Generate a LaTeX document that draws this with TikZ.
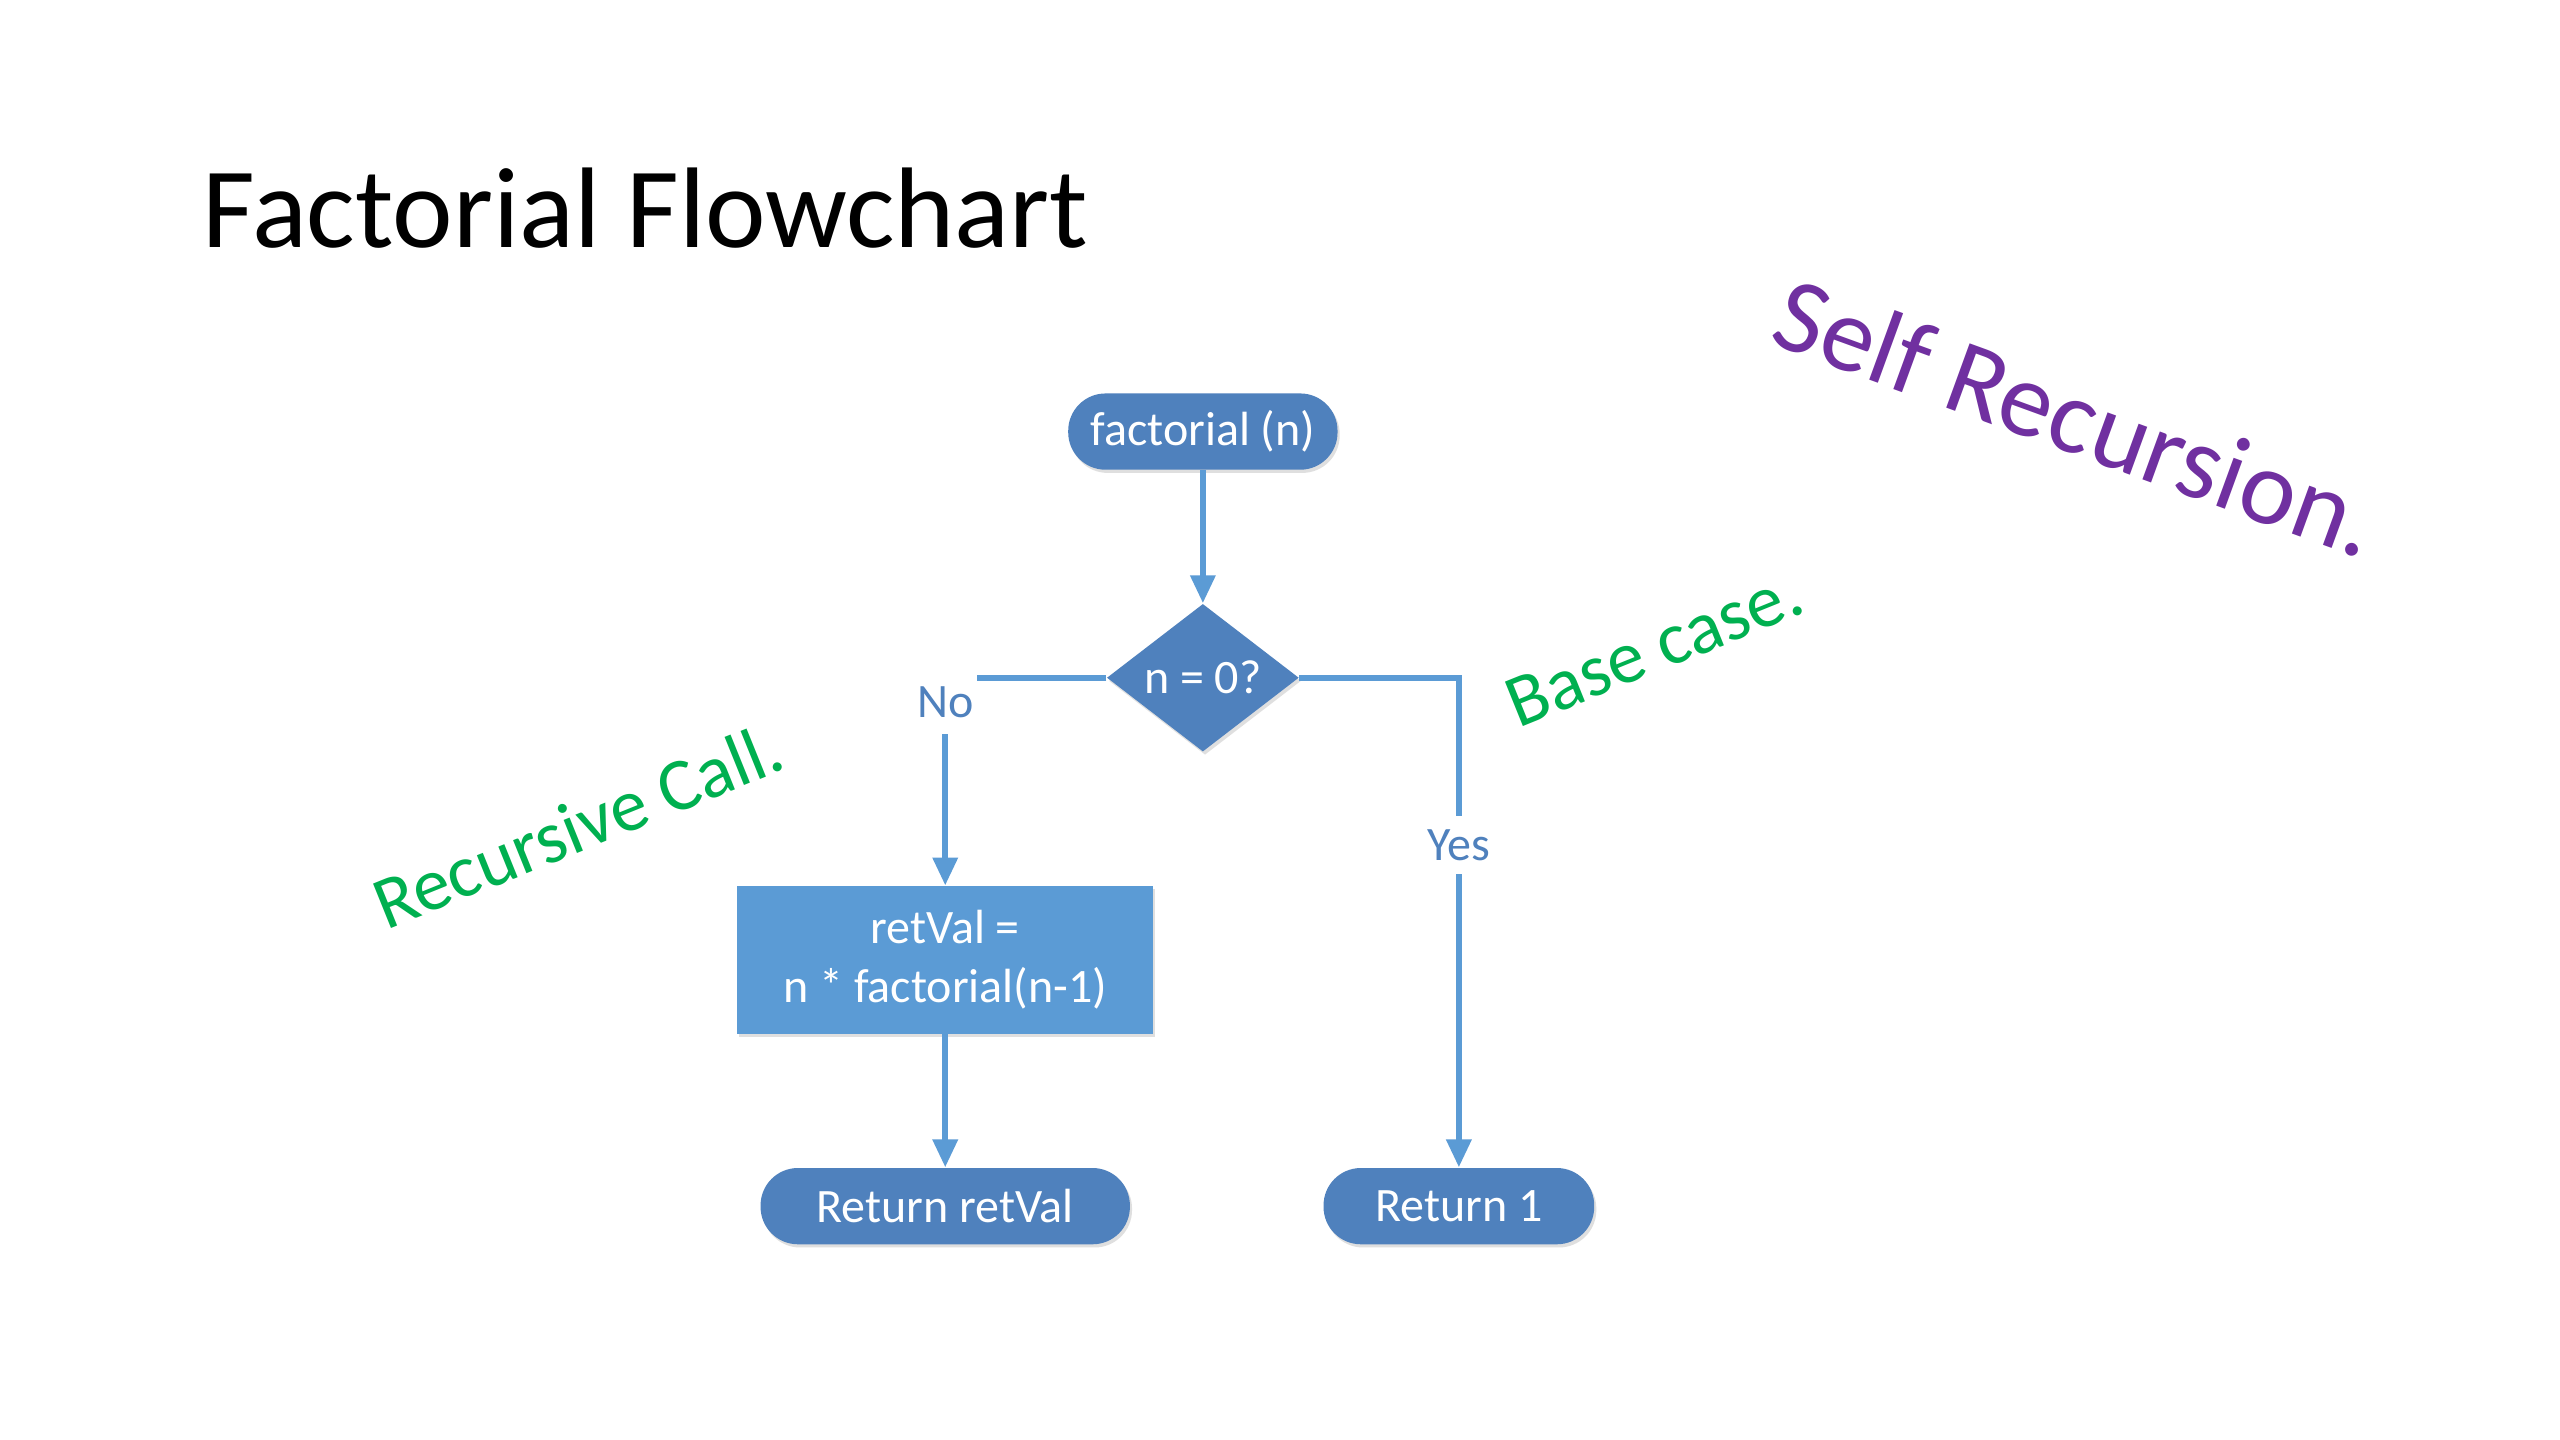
\documentclass[tikz,border=0pt]{standalone}
\usepackage{fontspec}
\setmainfont{Carlito}
\usetikzlibrary{shapes.geometric, arrows.meta, shadows}

\definecolor{termblue}{HTML}{4F81BD}
\definecolor{procblue}{HTML}{5B9BD5}
\definecolor{lineblue}{HTML}{5B9BD5}
\definecolor{notegreen}{HTML}{00B050}
\definecolor{notepurple}{HTML}{7030A0}

\begin{document}
\begin{tikzpicture}[x=0.61538pt, y=-0.61538pt]
		\tikzset{box/.style = {draw=none, text=white, inner sep=0pt, font=\fontsize{18}{22}\selectfont,
				drop shadow={shadow xshift=0.8pt, shadow yshift=-1.2pt, opacity=0.25}},
			term/.style = {box, rectangle, rounded corners=14pt, fill=termblue, minimum height=28.6pt},
			flow/.style = {draw=lineblue, line width=2.4pt, -{Triangle[length=10.5pt, width=9pt]}},
			answer/.style = {fill=white, text=termblue, inner sep=0pt, font=\fontsize{18}{22}\selectfont},
			note/.style = {font=\fontsize{28}{34}\selectfont, text=notegreen}}

		\fill[white] (0,0) rectangle (1560,877.5);
		\useasboundingbox (0,0) rectangle (1560,877.5);

		\node[anchor=base west, inner sep=0pt, font=\fontsize{43}{52}\selectfont] (T_1) at (123,151) {Factorial Flowchart};

		\node[term, minimum width=101pt] (B_1) at (733,263) {factorial (n)};
		\node[box, diamond, aspect=1.3, fill=termblue, minimum width=72pt, minimum height=55.4pt] (B_2) at (733,413) {n = 0?};
		\node[box, rectangle, fill=procblue, minimum width=156pt, minimum height=55.4pt, align=center] (B_3) at (576,585) {retVal =\\n * factorial(n-1)};
		\node[term, minimum width=138.5pt] (B_4) at (576,735) {Return retVal};
		\node[term, minimum width=101.5pt] (B_5) at (889,735) {Return 1};


		\draw[flow] (B_1)--(B_2);
		\draw[flow] (B_2.west) -| (B_3.north);
		\draw[flow] (B_2.east) -| (B_5.north);
		\draw[flow] (B_3)--(B_4);

		\node[answer, minimum width=24pt, minimum height=24pt] (L_1) at (576,428) {No};
		\node[answer, minimum width=29pt, minimum height=22pt] (L_2) at (889,515) {Yes};


		\node[note, rotate=22] (N_1) at (352,503) {Recursive Call.};
		\node[note, rotate=22] (N_2) at (1008,395) {Base case.};
		\node[note, rotate=-20, text=notepurple, font=\fontsize{40}{48}\selectfont] (N_3) at (1266,254) {Self Recursion.};

	\end{tikzpicture}
\end{document}
